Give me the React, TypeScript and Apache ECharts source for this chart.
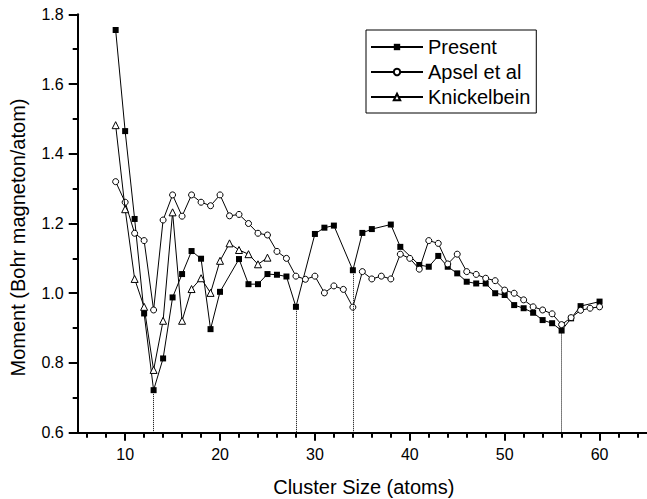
import React, { useEffect, useRef } from "react";
import * as echarts from "echarts";

// Cluster sizes (atoms) and magnetic moments (Bohr magneton/atom)
const presentSizes = [9, 10, 11, 12, 13, 14, 15, 16, 17, 18, 19, 20, 22, 23, 24, 25, 26, 27, 28, 30, 31, 32, 34, 35, 36, 38, 39, 41, 42, 43, 44, 45, 46, 47, 48, 49, 50, 51, 52, 53, 54, 55, 56, 57, 58, 60];
const presentMoments = [1.755, 1.465, 1.213, 0.942, 0.722, 0.813, 0.988, 1.055, 1.121, 1.099, 0.897, 1.004, 1.098, 1.026, 1.026, 1.055, 1.053, 1.048, 0.961, 1.17, 1.188, 1.194, 1.066, 1.173, 1.184, 1.197, 1.133, 1.081, 1.076, 1.107, 1.076, 1.057, 1.033, 1.028, 1.028, 1.0, 0.995, 0.966, 0.957, 0.944, 0.923, 0.914, 0.893, 0.928, 0.963, 0.976];

const apselSizes = [9, 10, 11, 12, 13, 14, 15, 16, 17, 18, 19, 20, 21, 22, 23, 24, 25, 26, 27, 28, 29, 30, 31, 32, 33, 34, 35, 36, 37, 38, 39, 40, 41, 42, 43, 44, 45, 46, 47, 48, 49, 50, 51, 52, 53, 54, 55, 56, 57, 58, 59, 60];
const apselMoments = [1.32, 1.261, 1.172, 1.151, 0.952, 1.21, 1.282, 1.221, 1.282, 1.261, 1.251, 1.282, 1.222, 1.226, 1.2, 1.172, 1.167, 1.12, 1.1, 1.049, 1.04, 1.049, 1.001, 1.021, 1.011, 0.96, 1.062, 1.041, 1.049, 1.041, 1.112, 1.1, 1.069, 1.151, 1.143, 1.084, 1.112, 1.062, 1.054, 1.043, 1.036, 1.009, 1.0, 0.981, 0.961, 0.952, 0.941, 0.91, 0.93, 0.951, 0.957, 0.961];

const knickSizes = [9, 10, 11, 12, 13, 14, 15, 16, 17, 18, 19, 20, 21, 22, 23, 24, 25];
const knickMoments = [1.482, 1.241, 1.041, 0.961, 0.78, 0.921, 1.232, 0.921, 1.012, 1.043, 1.001, 1.093, 1.143, 1.124, 1.112, 1.083, 1.102];

// Sizes whose "Present" moment is marked with a dotted drop line
const minimaSizes = [13, 28, 34, 56];

const xLabelValues = [10, 20, 30, 40, 50, 60];
const seriesNames = ["Present", "Apsel et al", "Knickelbein"];
const xTitle = "Cluster Size (atoms)";
const yTitle = "Moment (Bohr magneton/atom)";

const FONT = "'Liberation Sans', Arial, Helvetica, sans-serif";

const pairs = (xs: number[], ys: number[]) => xs.map((x, i) => [x, ys[i]]);

export default function App() {
  const ref = useRef<HTMLDivElement>(null);

  useEffect(() => {
    if (!ref.current) return;
    const chart = echarts.init(ref.current, null, { renderer: "svg" });

    const dropLines = minimaSizes.map((s) => {
      const v = presentMoments[presentSizes.indexOf(s)];
      return [{ coord: [s, v] }, { coord: [s, 0.6] }];
    });

    const lineStyle = { color: "#000", width: 1 };

    chart.setOption({
      animation: false,
      backgroundColor: "#fff",
      grid: { left: 77.7, right: -3.3, top: 14.3, bottom: 66.3, containLabel: false },
      legend: {
        left: 366,
        top: 30,
        orient: "vertical",
        data: seriesNames,
        itemWidth: 52,
        itemHeight: 8,
        itemGap: 5,
        padding: [7, 6, 6, 4],
        borderColor: "#000",
        borderWidth: 1,
        textStyle: { fontFamily: FONT, fontSize: 20, color: "#000" },
      },
      xAxis: {
        type: "value",
        min: 5,
        max: 65,
        splitNumber: 6,
        axisLine: { lineStyle: { color: "#000", width: 2 } },
        axisTick: { show: true, inside: false, length: 8, lineStyle: { color: "#000", width: 2 }, customValues: xLabelValues },
        minorTick: { show: true, splitNumber: 5, length: 5, lineStyle: { color: "#000", width: 2 } },
        axisLabel: { customValues: xLabelValues, margin: 14, fontFamily: FONT, fontSize: 16, color: "#000" },
        splitLine: { show: false },
      },
      yAxis: {
        type: "value",
        min: 0.6,
        max: 1.8,
        interval: 0.2,
        axisLine: { show: true, lineStyle: { color: "#000", width: 2 } },
        axisTick: { show: true, inside: false, length: 9, lineStyle: { color: "#000", width: 2 } },
        minorTick: { show: true, splitNumber: 2, length: 5, lineStyle: { color: "#000", width: 2 } },
        axisLabel: {
          margin: 14,
          fontFamily: FONT,
          fontSize: 16,
          color: "#000",
          formatter: (v: number) => v.toFixed(1),
        },
        splitLine: { show: false },
      },
      graphic: [
        {
          type: "text",
          x: 17.5,
          y: 237.5,
          rotation: Math.PI / 2,
          style: {
            text: yTitle,
            fontFamily: FONT,
            fontSize: 20,
            fill: "#000",
            textAlign: "center",
            textVerticalAlign: "middle",
          },
        },
        {
          type: "text",
          x: 363.8,
          y: 487,
          style: {
            text: xTitle,
            fontFamily: FONT,
            fontSize: 20,
            fill: "#000",
            textAlign: "center",
            textVerticalAlign: "middle",
          },
        },
      ],
      series: [
        {
          name: seriesNames[0],
          type: "line",
          data: pairs(presentSizes, presentMoments),
          symbol: "rect",
          symbolSize: 6,
          showAllSymbol: true,
          lineStyle,
          itemStyle: { color: "#000", borderColor: "#000", borderWidth: 0 },
          z: 2,
          markLine: {
            silent: true,
            symbol: "none",
            label: { show: false },
            lineStyle: { color: "#000", width: 1, type: "dotted" },
            data: dropLines,
          },
        },
        {
          name: seriesNames[1],
          type: "line",
          data: pairs(apselSizes, apselMoments),
          symbol: "circle",
          symbolSize: 6,
          showAllSymbol: true,
          lineStyle,
          itemStyle: { color: "#fff", borderColor: "#000", borderWidth: 1 },
          z: 3,
        },
        {
          name: seriesNames[2],
          type: "line",
          data: pairs(knickSizes, knickMoments),
          symbol: "triangle",
          symbolSize: 7,
          showAllSymbol: true,
          lineStyle,
          itemStyle: { color: "#fff", borderColor: "#000", borderWidth: 1 },
          z: 4,
        },
      ],
    });

    return () => chart.dispose();
  }, []);

  return (
    <div
      ref={ref}
      style={{ position: "fixed", left: 0, top: 0, width: 647, height: 499, background: "#fff" }}
    />
  );
}
